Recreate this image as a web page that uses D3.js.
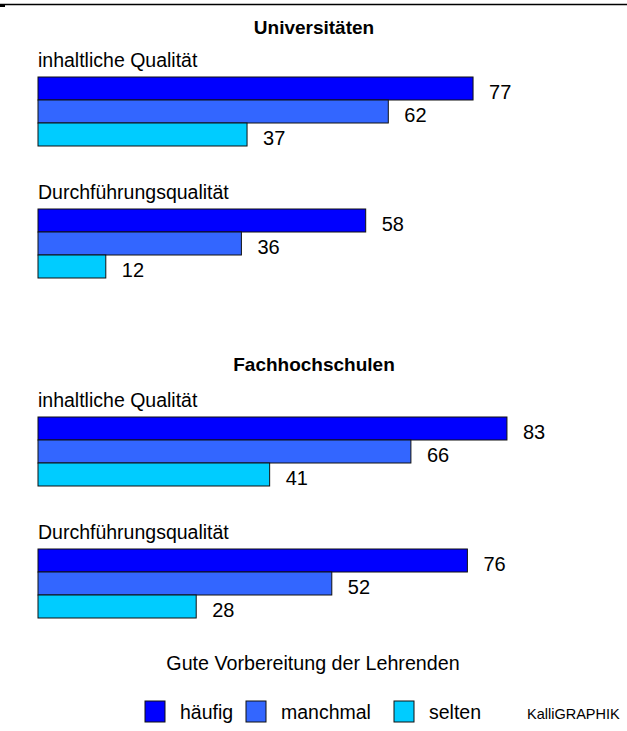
<!DOCTYPE html>
<html>
<head>
<meta charset="utf-8">
<script src="https://cdn.jsdelivr.net/npm/d3@7"></script>
<style>
	body { margin:0; background:#fff; }
	text { font-family:"Liberation Sans", Arial, sans-serif; fill:#000; }
</style>
</head>
<body>
<div id="chart"></div>
<script>
// data
let sections = ["Universitäten","Fachhochschulen"];
let categories = ["inhaltliche Qualität","Durchführungsqualität"];
let series = ["häufig","manchmal","selten"];
let colors = ["#0000ff","#3366ff","#00ccff"];
let uniValues = [[77,62,37],[58,36,12]];
let fhValues = [[83,66,41],[76,52,28]];
let legendTitle = "Gute Vorbereitung der Lehrenden";
let credit = "KalliGRAPHIK";

function drawBars(svg,x,top,label,values) {
	svg.append("text")
		.attr("x",38).attr("y",top-10)
		.style("font-size","19.5px")
		.text(label);

	let y = d3.scaleBand().domain(series).range([top,top+69]).padding(0);

	svg.selectAll(null)
		.data(values)
		.enter()
			.append("rect")
			.attr("x",x(0))
			.attr("y",function(d,i) { return y(series[i]); })
			.attr("width",function(d) { return x(d)-x(0); })
			.attr("height",y.bandwidth())
			.attr("fill",function(d,i) { return colors[i]; })
			.attr("stroke","#111")
			.attr("stroke-width",1);

	svg.selectAll(null)
		.data(values)
		.enter()
			.append("text")
			.attr("x",function(d) { return x(d)+16; })
			.attr("y",function(d,i) { return y(series[i])+y.bandwidth()-1; })
			.style("font-size","20px")
			.text(function(d) { return d; });
}

function drawChart(containerId,Width,Height) {
	let svg = d3.select(containerId).append("svg")
				.attr("width",Width)
				.attr("height",Height);

	// thin rule across the top edge
	svg.append("line")
		.attr("x1",0).attr("x2",Width)
		.attr("y1",4.5).attr("y2",4.5)
		.attr("stroke","#000").attr("stroke-width",1.5);
	svg.append("rect").attr("x",0).attr("y",5).attr("width",5).attr("height",2).attr("fill","#000");

	let x = d3.scaleLinear().domain([0,100]).range([38,603]);

	let blocks = [
		{title: sections[0], titleY: 34, tops: [77,209], values: uniValues},
		{title: sections[1], titleY: 371, tops: [417,549], values: fhValues}
	];

	blocks.forEach(function(b) {
		svg.append("text")
			.attr("x",314).attr("y",b.titleY)
			.attr("text-anchor","middle")
			.style("font-size","19px").style("font-weight","bold")
			.text(b.title);
		categories.forEach(function(c,i) {
			drawBars(svg,x,b.tops[i],c,b.values[i]);
		});
	});

	svg.append("text")
		.attr("x",313).attr("y",670)
		.attr("text-anchor","middle")
		.style("font-size","19.7px")
		.text(legendTitle);

	// legend
	let legendX = [145,246,394];
	let legend = svg.selectAll("g.legend")
				.data(series)
				.enter()
					.append("g")
					.attr("class","legend")
					.attr("transform",function(d,i) { return "translate("+legendX[i]+",701)"; });
	legend.append("rect")
		.attr("width",20).attr("height",21)
		.attr("fill",function(d,i) { return colors[i]; })
		.attr("stroke","#111").attr("stroke-width",1);
	legend.append("text")
		.attr("x",35).attr("y",18)
		.style("font-size","19.5px")
		.text(function(d) { return d; });

	svg.append("text")
		.attr("x",527).attr("y",719)
		.style("font-size","14.5px")
		.text(credit);
}

drawChart("#chart",627,731);
</script>
</body>
</html>
